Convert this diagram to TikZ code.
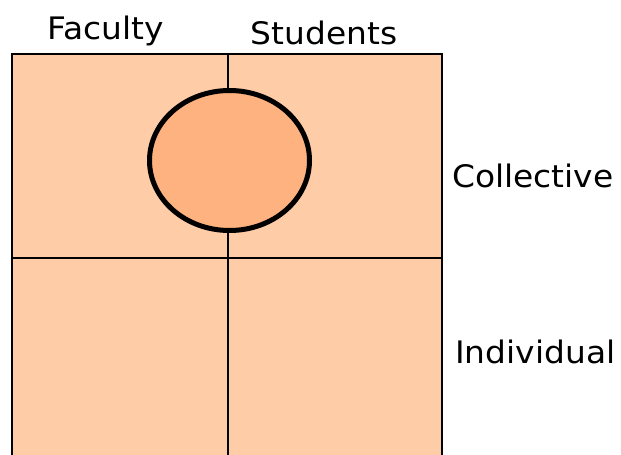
\documentclass[tikz,border=0pt]{standalone}
\usepackage{fontspec}
\setmainfont[FakeStretch=1.06]{DejaVu Sans}
\usetikzlibrary{shapes.geometric}
\definecolor{cellfill}{HTML}{FFCCA8}
\definecolor{ovalfill}{HTML}{FDB280}
\begin{document}
\begin{tikzpicture}[x=1pt,y=-1pt,
  lbl/.style={font=\fontsize{31}{36}\selectfont, inner sep=0pt, anchor=base},
  gridline/.style={line width=2.5pt, draw=black}]
\useasboundingbox (0,0) rectangle (621,455);
\clip (0,0) rectangle (621,455);
\fill[cellfill] (12,54) rectangle (442,470);
\coordinate (tl) at (12,54);
\coordinate (tr) at (442,54);
\coordinate (bl) at (12,470);
\coordinate (br) at (442,470);
\coordinate (vt) at (228,54);
\coordinate (vb) at (228,470);
\coordinate (hl) at (12,258);
\coordinate (hr) at (442,258);
\draw[gridline] (bl) -- (tl) -- (tr) -- (br);
\draw[gridline] (vt) -- (vb);
\draw[gridline] (hl) -- (hr);
\node[draw=black, line width=5pt, fill=ovalfill, ellipse, minimum width=160pt, minimum height=140pt, inner sep=0pt] (oval) at (229.5,160.5) {};
\node[lbl] (fac) at (105.5,39.5) {Faculty};
\node[lbl] (stu) at (324,44.5) {Students};
\node[lbl, anchor=base west] (col) at (452,187) {Collective};
\node[lbl, anchor=base west] (ind) at (455,363) {Individual};
\end{tikzpicture}
\end{document}
